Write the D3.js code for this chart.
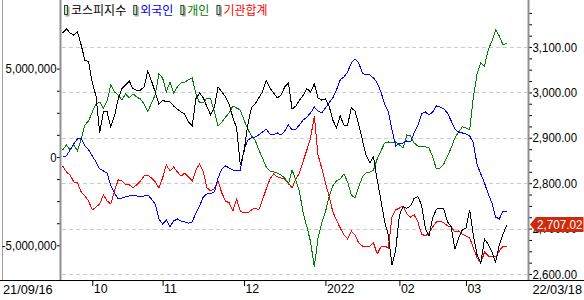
<!DOCTYPE html>
<html>
<head>
<meta charset="utf-8">
<script src="https://cdn.jsdelivr.net/npm/d3@7"></script>
<style>
  body { margin: 0; background: #fff; }
  svg { display: block; }
</style>
</head>
<body>
<div id="app"></div>
<script>
// trading days 21/09/16 .. 22/03/18 (index = trading day number)
const xTicks = [0, 8, 27, 49, 71, 91, 109, 120]
const xTickLabels = ['21/09/16', '10', '11', '12', '2022', '02', '03', '22/03/18']

// KOSPI index (right axis)
const kospi = [3131,3140,3131,3126,3133,3104,3071,3067,3021,2992,
  2911,2957,2957,2924,2948,2986,3008,3016,3025,3008,
  3005,3005,3012,3047,3025,3001,2974,2983,2979,2979,
  2970,2963,2957,2952,2935,2926,2986,2999,2988,2968,
  2950,2968,3012,3001,2990,2974,2944,2922,2840,2869,
  2928,2966,2974,2988,3001,3027,3010,2999,2988,2994,
  3012,3021,2963,2970,2983,2994,3008,3001,3019,2988,
  2983,2986,2970,2939,2922,2948,2928,2928,2966,2959,
  2930,2895,2862,2845,2858,2807,2763,2715,2686,2620,
  2653,2730,2748,2745,2750,2767,2770,2752,2701,2684,
  2723,2743,2745,2743,2715,2704,2655,2679,2697,2701,
  2741,2684,2642,2624,2677,2666,2649,2626,2664,2688,
  2707.02]

// cumulative net buying, in millions (left axis)
const UNIT = 1e6
const foreign = [0,0.06,0.40,0.74,1.02,1.08,0.62,0.40,0.06,-0.28,
  -0.68,-0.79,-0.91,-1.64,-2.04,-2.38,-2.32,-2.26,-2.21,-2.15,
  -2.21,-2.26,-2.21,-2.15,-2.38,-2.66,-3.51,-3.79,-3.57,-3.96,
  -3.62,-3.51,-3.62,-3.68,-3.74,-3.68,-3.17,-2.77,-2.26,-2.09,
  -2.09,-1.98,-1.19,-0.68,-0.51,-0.62,-0.74,-0.74,-0.74,0.40,
  0.96,1.08,1.13,1.25,1.41,1.58,1.30,1.25,1.36,1.25,
  1.47,1.81,1.53,1.58,1.81,2.09,2.26,2.49,2.83,2.60,
  2.49,2.77,3.06,3.34,3.79,4.36,4.53,4.81,5.32,5.55,
  5.32,4.75,4.64,4.64,4.47,4.19,3.68,3.00,2.55,1.53,
  0.62,0.79,0.79,0.91,0.85,1.36,1.81,2.43,2.55,2.38,
  2.55,2.89,2.83,2.72,2.49,2.04,1.58,1.41,1.36,1.30,
  1.19,0.79,-0.45,-0.96,-1.47,-2.09,-2.60,-3.40,-3.51,-3.06,
  -3.11]

const individual = [0.40,0.68,0.40,0.68,0.34,1.02,1.81,2.04,2.55,3.00,
  3.11,2.77,3.17,4.07,3.68,3.51,3.23,3.57,3.34,3.57,
  3.40,3.28,3.00,2.55,3.06,3.51,4.70,4.47,3.68,4.24,
  3.62,3.96,4.19,4.24,4.36,4.47,3.57,3.06,3.06,3.34,
  3.28,2.55,1.75,1.98,2.26,2.49,2.89,2.77,2.66,2.09,
  1.58,1.19,0.96,0.40,-0.06,-0.57,-0.79,-0.85,-0.91,-1.02,
  -1.19,-1.53,-0.74,-1.30,-1.98,-3.17,-3.96,-4.81,-6.23,-4.58,
  -3.74,-3.11,-2.26,-1.64,-1.36,-1.25,-0.96,-1.41,-2.15,-2.32,
  -1.70,-1.13,-0.91,-0.85,-0.74,-0.11,0.34,0.79,0.85,0.79,
  0.85,0.68,0.51,1.25,1.19,0.79,0.62,0.57,0.57,0.51,
  0,-0.68,-0.62,-0.40,0.06,0.51,1.08,1.41,1.70,1.64,
  1.53,3.40,4.70,5.32,5.15,6.06,6.56,7.19,6.85,6.34,
  6.45]

const institution = [-0.51,-0.85,-1.02,-1.41,-1.47,-1.98,-2.21,-2.49,-3.00,-2.83,
  -2.66,-2.15,-2.49,-2.66,-1.92,-1.30,-1.36,-1.58,-1.58,-1.75,
  -1.58,-1.36,-1.08,-1.02,-1.19,-1.41,-1.75,-1.19,-0.45,-0.79,
  -0.57,-0.85,-1.08,-0.91,-1.13,-1.36,-0.74,-0.40,-0.85,-1.75,
  -1.92,-1.81,-1.36,-2.04,-2.49,-2.60,-3.06,-2.38,-3.06,-3.17,
  -3.17,-3.00,-2.89,-3.00,-2.43,-1.81,-1.25,-0.96,-1.13,-1.19,
  -1.25,-1.47,-1.75,-1.25,-0.91,-0.23,0.40,1.08,2.32,0.11,
  -0.62,-1.47,-2.21,-3.11,-3.57,-4.02,-4.41,-4.64,-4.19,-4.41,
  -4.87,-5.04,-5.09,-5.04,-4.87,-5.49,-5.09,-5.04,-5.15,-3.40,
  -3.00,-2.89,-2.77,-3.23,-3.40,-3.28,-3.68,-4.36,-4.47,-4.30,
  -3.96,-3.68,-3.62,-3.74,-3.90,-3.96,-4.24,-4.19,-4.36,-4.47,
  -4.58,-5.15,-5.72,-6.00,-5.38,-5.60,-5.66,-5.66,-5.32,-5.04,
  -5.04]

const names = ['코스피지수', '외국인', '개인', '기관합계']
const colors = ['#000000', '#0000ff', '#008000', '#ff0000']

const leftTicks = [-5, -3.75, -2.5, -1.25, 0, 1.25, 2.5, 3.75, 5].map(d => d * UNIT)
const leftLabels = [-5, 0, 5].map(d => d * UNIT)
const rightTicks = d3.range(2600, 3176, 25)
const rightLabels = d3.range(2600, 3101, 100)

const width = 584,
  height = 300,
  plotLeft = 61,
  plotRight = 529,
  plotTop = 2,
  plotBottom = 281;

const font = '"Liberation Sans", Arial, sans-serif'
const fmtInt = d => d3.format(',')(d).replace('\u2212', '-')

// squeeze the labels a bit, the original uses a narrow bitmap font
function narrow(sel, k) {
  sel.each(function () {
    const w = this.getComputedTextLength()
    if (w > 0) d3.select(this).attr('textLength', w * k).attr('lengthAdjust', 'spacingAndGlyphs')
  })
}

let svg = d3.select('#app')
  .append('svg')
  .attr('width', width)
  .attr('height', height)
  .style('font-family', font)
  .style('font-size', '13px')

const x = d3.scaleLinear().domain([0, kospi.length - 1]).range([62.7, 506.7])
const yL = d3.scaleLinear().domain([-7.02 * UNIT, 8.77 * UNIT]).range([plotBottom, plotTop])
const yR = d3.scaleLinear().domain([2584.6, 3199.1]).range([plotBottom, plotTop])

// frame
svg.append('line')
  .attr('x1', 2.5).attr('x2', 2.5).attr('y1', 0).attr('y2', plotBottom)
  .attr('stroke', '#a0a0a0')

// grid
svg.selectAll('.grid')
  .data(rightLabels)
  .enter()
  .append('line')
  .attr('class', 'grid')
  .attr('x1', plotLeft + 1)
  .attr('x2', plotRight - 2)
  .attr('y1', d => Math.round(yR(d)) + 0.5)
  .attr('y2', d => Math.round(yR(d)) + 0.5)
  .attr('stroke', '#cccccc')
  .attr('stroke-dasharray', '4,3')

// left axis
let left = svg.append('g')
  .attr('transform', `translate(${plotLeft - 0.5},0)`)
  .call(d3.axisLeft(yL).tickValues(leftTicks).tickSize(3.5).tickPadding(0.5)
    .tickFormat(d => leftLabels.includes(d) ? fmtInt(d) : ''))
  .call(g => g.select('.domain').remove())
  .call(g => g.selectAll('line').attr('stroke', '#000'))
left.selectAll('text').attr('fill', '#000').style('font-family', font).style('font-size', '13px')
  .call(narrow, 0.88)

svg.append('line')
  .attr('x1', plotLeft - 0.5).attr('x2', plotLeft - 0.5).attr('y1', 0).attr('y2', plotBottom)
  .attr('stroke', '#909090').attr('stroke-width', 2)

// right axis
let right = svg.append('g')
  .attr('transform', `translate(${plotRight},0)`)
  .call(d3.axisRight(yR).tickValues(rightTicks).tickSize(3).tickPadding(0.5)
    .tickFormat(d => rightLabels.includes(d) ? d3.format(',.2f')(d) : ''))
  .call(g => g.select('.domain').remove())
  .call(g => g.selectAll('line').attr('stroke', '#000'))
right.selectAll('text').attr('fill', '#000').style('font-family', font).style('font-size', '13px')
  .call(narrow, 0.88)

svg.append('line')
  .attr('x1', plotRight - 0.5).attr('x2', plotRight - 0.5).attr('y1', 0).attr('y2', plotBottom)
  .attr('stroke', '#909090').attr('stroke-width', 2)

// bottom axis
svg.append('line')
  .attr('x1', 0).attr('x2', width).attr('y1', plotBottom - 0.5).attr('y2', plotBottom - 0.5)
  .attr('stroke', '#000')

let bottom = svg.append('g')
  .attr('transform', `translate(0,${plotBottom})`)
  .call(d3.axisBottom(x).tickValues(xTicks.slice(1, -1)).tickSize(5)
    .tickFormat(d => xTickLabels[xTicks.indexOf(d)]))
  .call(g => g.select('.domain').remove())
  .call(g => g.selectAll('line').attr('stroke', '#000'))
bottom.selectAll('text')
  .attr('fill', '#000')
  .attr('text-anchor', 'start')
  .attr('x', 1)
  .attr('y', 3)
  .style('font-family', font).style('font-size', '13px')
  .call(narrow, 0.95)

svg.append('text')
  .attr('x', 3).attr('y', plotBottom + 13)
  .text(xTickLabels[0])
  .call(narrow, 0.98)
svg.append('text')
  .attr('x', width - 2).attr('y', plotBottom + 13)
  .attr('text-anchor', 'end')
  .text(xTickLabels[xTickLabels.length - 1])
  .call(narrow, 0.98)

// series
const seriesLeft = [institution, individual, foreign]
const leftColors = [colors[3], colors[2], colors[1]]

const lineL = d3.line().x((d, i) => x(i)).y(d => yL(d * UNIT))
const lineR = d3.line().x((d, i) => x(i)).y(d => yR(d))

svg.selectAll('.series')
  .data(seriesLeft)
  .enter()
  .append('path')
  .attr('class', 'series')
  .attr('d', d => lineL(d))
  .attr('fill', 'none')
  .attr('stroke', (d, i) => leftColors[i])
  .attr('stroke-width', 1)
  .attr('shape-rendering', 'crispEdges')

svg.append('path')
  .attr('d', lineR(kospi))
  .attr('fill', 'none')
  .attr('stroke', colors[0])
  .attr('stroke-width', 1)
  .attr('shape-rendering', 'crispEdges')

// last value badge
const last = kospi[kospi.length - 1]
const by = yR(last) - 1
svg.append('path')
  .attr('d', `M${plotRight + 1},${by} L${plotRight + 7},${by - 7.5} L${width - 0.5},${by - 7.5} L${width - 0.5},${by + 7.5} L${plotRight + 7},${by + 7.5} Z`)
  .attr('fill', '#d02a0c')
svg.append('text')
  .attr('x', plotRight + 8)
  .attr('y', by + 4.5)
  .attr('fill', '#fff')
  .text(d3.format(',.2f')(last))
  .call(narrow, 0.9)

// legend
let lx = 64
names.forEach((n, i) => {
  svg.append('rect')
    .attr('x', lx + 1.5).attr('y', 6.5).attr('width', 4).attr('height', 10)
    .attr('fill', '#a8a8a8')
  svg.append('rect')
    .attr('x', lx + 0.5).attr('y', 5.5).attr('width', 3).attr('height', 9)
    .attr('fill', '#b8f0b8').attr('stroke', '#404040')
  let t = svg.append('text')
    .attr('x', lx + 7)
    .attr('y', 15)
    .attr('fill', colors[i])
    .style('font-family', '"Noto Sans CJK KR", sans-serif')
    .style('font-size', '12px')
    .text(n)
  lx = lx + 7 + t.node().getComputedTextLength() + 7
})
</script>
</body>
</html>
